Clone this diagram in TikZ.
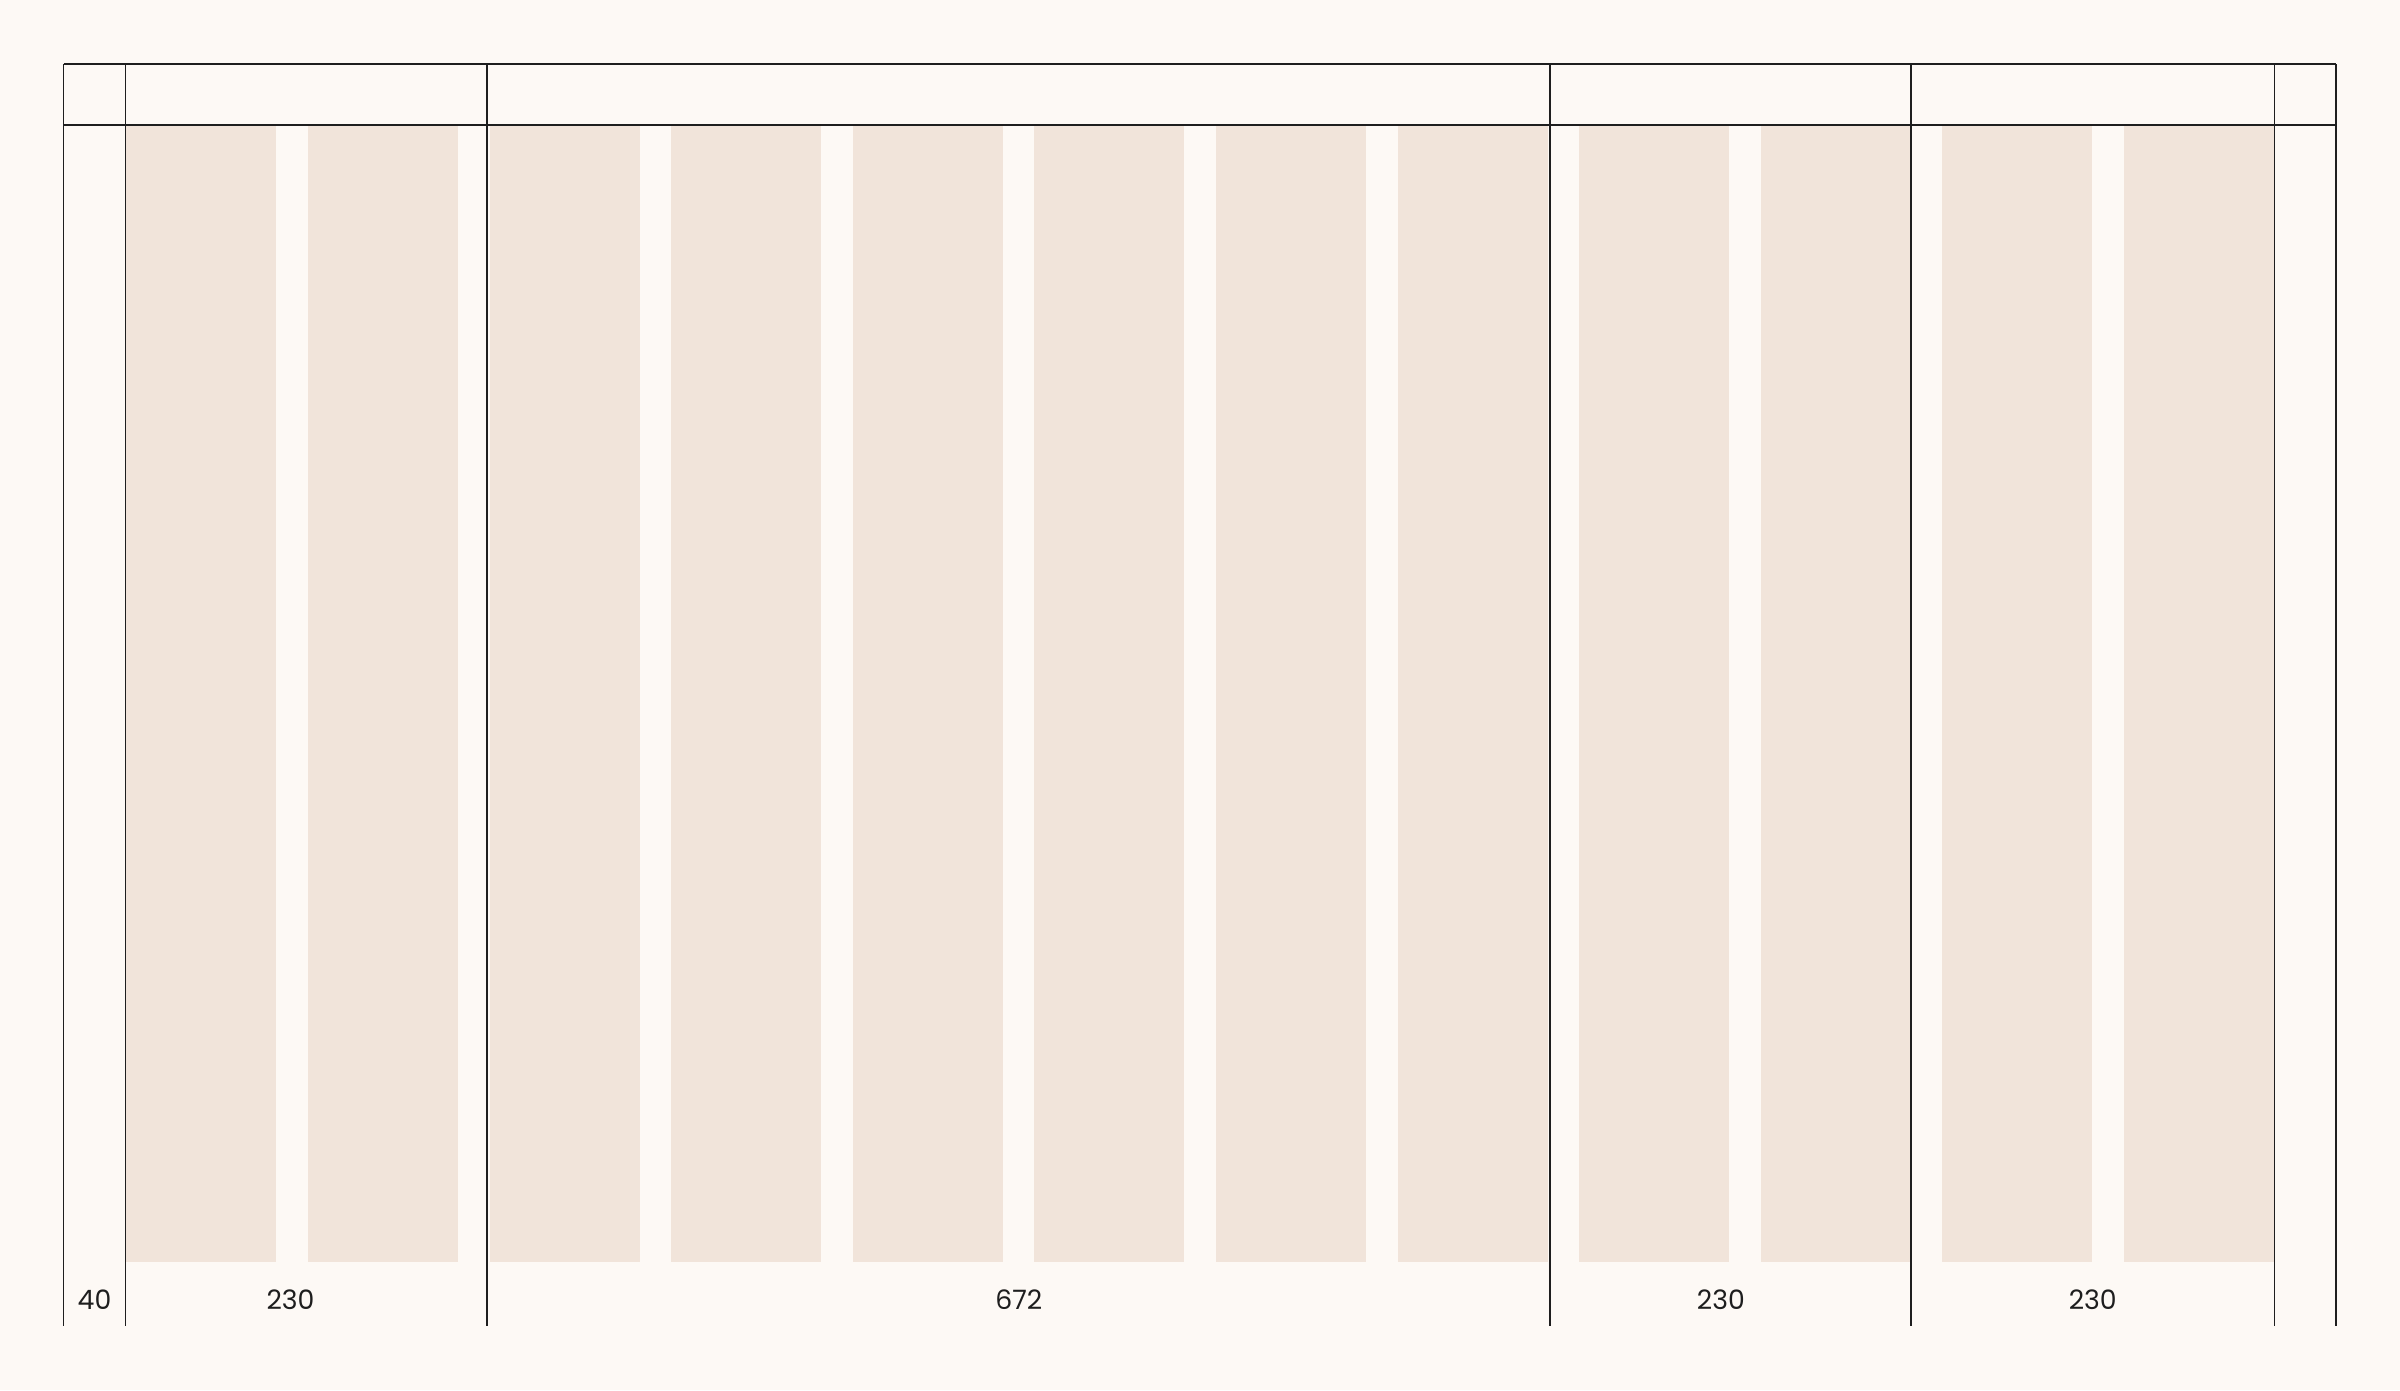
\documentclass[tikz,border=0pt]{standalone}
\usepackage{fontspec}
\setmainfont{Poppins}
\definecolor{bgc}{HTML}{FDF9F5}
\definecolor{colc}{HTML}{F1E4DA}
\definecolor{linec}{HTML}{1E1E1E}
\begin{document}
\begin{tikzpicture}[x=0.01cm,y=-0.01cm,
  gridline/.style={draw=linec,line width=0.55pt},
  colbox/.style={fill=colc,draw=none},
  lbl/.style={font=\fontsize{7.6pt}{9pt}\selectfont,text=linec,inner sep=0pt,anchor=center}]
\useasboundingbox (0,0) rectangle (2400,1390);
\fill[bgc] (0,0) rectangle (2400,1390);
% columns
\foreach \i in {0,...,11}{
  \path[colbox] ({126.3+\i*181.6},126) rectangle ({276.3+\i*181.6},1262);
}
% horizontal lines
\draw[gridline] (63.5,64) -- (2335.8,64);
\draw[gridline] (63.5,125) -- (2335.8,125);
% vertical lines
\foreach \x in {63.5,125.5,486.8,1549.8,1911.4,2274.5,2335.8}{
  \draw[gridline] (\x,64) -- (\x,1326);
}
% labels
\node[lbl] (l40) at (94.5,1300) {40};
\node[lbl] (la) at (290.5,1300) {230};
\node[lbl] (lb) at (1018.8,1300) {672};
\node[lbl] (lc) at (1720.9,1300) {230};
\node[lbl] (ld) at (2092.8,1300) {230};
\end{tikzpicture}
\end{document}
